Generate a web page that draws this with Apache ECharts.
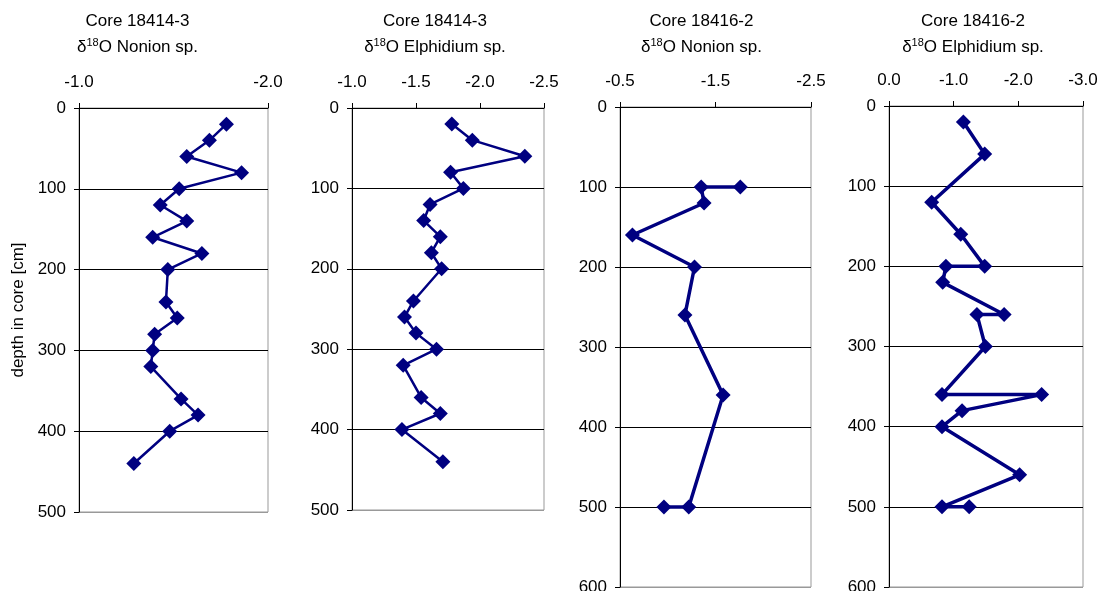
<!DOCTYPE html>
<html>
<head>
<meta charset="utf-8">
<script src="https://cdn.jsdelivr.net/npm/echarts@6/dist/echarts.min.js"></script>
<style>
  html, body { margin: 0; padding: 0; background: #fff; }
  #chart { width: 1102px; height: 591px; }
</style>
</head>
<body>
<div id="chart"></div>
<script>
// Panel headings: core and foraminifera taxon
const cores = ['Core 18414-3', 'Core 18414-3', 'Core 18416-2', 'Core 18416-2'];
const taxa = ['Nonion sp.', 'Elphidium sp.', 'Nonion sp.', 'Elphidium sp.'];

// Core 18414-3, Nonion sp.: depth [cm] and δ18O
const depth1 = [20, 40, 60, 80, 100, 120, 140, 160, 180, 200, 240, 260, 280, 300, 320, 360, 380, 400, 440];
const d18O1 = [-1.78, -1.69, -1.57, -1.86, -1.53, -1.43, -1.57, -1.39, -1.65, -1.47, -1.46, -1.52, -1.40, -1.39, -1.38, -1.54, -1.63, -1.48, -1.29];

// Core 18414-3, Elphidium sp.
const depth2 = [20, 40, 60, 80, 100, 120, 140, 160, 180, 200, 240, 260, 280, 300, 320, 360, 380, 400, 440];
const d18O2 = [-1.78, -1.94, -2.35, -1.77, -1.87, -1.61, -1.56, -1.69, -1.62, -1.70, -1.48, -1.41, -1.50, -1.66, -1.40, -1.54, -1.69, -1.39, -1.71];

// Core 18416-2, Nonion sp.
const depth3 = [100, 100, 120, 160, 200, 260, 360, 500, 500];
const d18O3 = [-1.76, -1.35, -1.38, -0.63, -1.28, -1.18, -1.58, -1.22, -0.96];

// Core 18416-2, Elphidium sp.
const depth4 = [20, 60, 120, 160, 200, 200, 220, 260, 260, 300, 360, 360, 380, 400, 460, 500, 500];
const d18O4 = [-1.15, -1.48, -0.66, -1.11, -1.48, -0.88, -0.83, -1.78, -1.36, -1.49, -0.82, -2.36, -1.13, -0.82, -2.02, -0.82, -1.24];

// Tick values of the δ18O (top) and depth (left) axes
const xTicks1 = [-1.0, -2.0];
const xTicks2 = [-1.0, -1.5, -2.0, -2.5];
const xTicks3 = [-0.5, -1.5, -2.5];
const xTicks4 = [0.0, -1.0, -2.0, -3.0];
const depthTicksA = [0, 100, 200, 300, 400, 500];
const depthTicksB = [0, 100, 200, 300, 400, 500, 600];

const depthLabel = 'depth in core [cm]';

// ---- layout and styling ----
const FONT = '"Liberation Sans", Arial, sans-serif';
const NAVY = '#000080';
const panels = [
  { depth: depth1, vals: d18O1, xt: xTicks1, yt: depthTicksA, lw: 2.5,
    grid: { left: 79, top: 108, width: 189, height: 404 }, titleX: 137.5 },
  { depth: depth2, vals: d18O2, xt: xTicks2, yt: depthTicksA, lw: 2.5,
    grid: { left: 352, top: 108, width: 192, height: 402 }, titleX: 435 },
  { depth: depth3, vals: d18O3, xt: xTicks3, yt: depthTicksB, lw: 3.5,
    grid: { left: 620, top: 107, width: 191, height: 480 }, titleX: 701.5 },
  { depth: depth4, vals: d18O4, xt: xTicks4, yt: depthTicksB, lw: 3.5,
    grid: { left: 889, top: 106, width: 194, height: 481 }, titleX: 973 }
];

const grids = [], xAxes = [], yAxes = [], series = [], graphics = [];

panels.forEach((p, i) => {
  grids.push(Object.assign({ show: true, borderColor: '#999', borderWidth: 1,
    backgroundColor: 'transparent', containLabel: false, outerBoundsMode: 'none' }, p.grid));

  const xmin = Math.min(...p.xt), xmax = Math.max(...p.xt);
  xAxes.push({
    gridIndex: i, type: 'value', position: 'top', inverse: true,
    min: xmin, max: xmax, interval: Math.abs(p.xt[1] - p.xt[0]),
    axisLine: { show: true, onZero: false, lineStyle: { color: '#000', width: 1 } },
    axisTick: { show: true, inside: false, length: 5, lineStyle: { color: '#000' } },
    axisLabel: { show: true, margin: 17, fontSize: 17, fontFamily: FONT, color: '#000',
      showMinLabel: true, showMaxLabel: true, hideOverlap: false,
      formatter: v => v.toFixed(1) },
    splitLine: { show: false }
  });

  const ymax = Math.max(...p.yt);
  const lineColors = p.yt.map((t, k) => (k === p.yt.length - 1 ? '#999' : '#000'));
  yAxes.push({
    gridIndex: i, type: 'value', inverse: true, min: 0, max: ymax,
    interval: p.yt[1] - p.yt[0],
    name: i === 0 ? depthLabel : '',
    nameLocation: 'middle', nameRotate: 90, nameGap: 52,
    nameTextStyle: { fontSize: 17, fontFamily: FONT, color: '#000' },
    axisLine: { show: true, onZero: false, lineStyle: { color: '#000', width: 1 } },
    axisTick: { show: true, inside: false, length: 5, lineStyle: { color: '#000' } },
    axisLabel: { show: true, margin: 13, fontSize: 17, fontFamily: FONT, color: '#000',
      showMinLabel: true, showMaxLabel: true, hideOverlap: false },
    splitLine: { show: true, lineStyle: { color: lineColors, width: 1 } }
  });

  series.push({
    type: 'line', xAxisIndex: i, yAxisIndex: i,
    data: p.depth.map((d, k) => [p.vals[k], d]),
    symbol: 'diamond', symbolSize: 15, showSymbol: true,
    lineStyle: { color: NAVY, width: p.lw },
    itemStyle: { color: NAVY, borderWidth: 0 },
    animation: false, silent: true, z: 5
  });

  graphics.push({
    type: 'text', x: p.titleX, y: 21.5,
    style: { text: cores[i], font: '17px ' + FONT, fill: '#000',
      align: 'center', verticalAlign: 'middle' }
  });
  graphics.push({
    type: 'text', x: p.titleX, y: 47,
    style: {
      text: '{d|δ}{s|18}{t|O ' + taxa[i] + '}',
      align: 'center', verticalAlign: 'middle', fill: '#000',
      rich: {
        d: { fontSize: 17, fontFamily: FONT, lineHeight: 20, fill: '#000' },
        s: { fontSize: 11, fontFamily: FONT, lineHeight: 14, verticalAlign: 'top', fill: '#000' },
        t: { fontSize: 17, fontFamily: FONT, lineHeight: 20, fill: '#000' }
      }
    }
  });
});

const chart = echarts.init(document.getElementById('chart'), null, { renderer: 'canvas' });
chart.setOption({
  animation: false,
  backgroundColor: '#fff',
  grid: grids,
  xAxis: xAxes,
  yAxis: yAxes,
  series: series,
  graphic: graphics
});
</script>
</body>
</html>
